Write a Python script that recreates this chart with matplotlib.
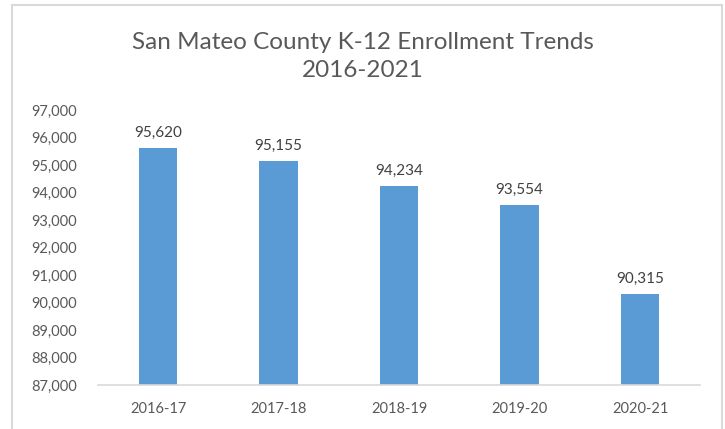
import matplotlib.pyplot as plt
from matplotlib.patches import Rectangle
import numpy as np

years = ["2016-17", "2017-18", "2018-19", "2019-20", "2020-21"]
enrollment = [95620, 95155, 94234, 93554, 90315]

plt.rcParams['font.family'] = ['Lato', 'DejaVu Sans']
grey = "#595959"

fig = plt.figure(figsize=(7.25, 4.29), dpi=100, facecolor='w')
ax = fig.add_axes([0.135, 0.1026, 0.831, 0.641])

x = np.arange(len(years))
bars = ax.bar(x, enrollment, width=0.32, color="#5b9bd5", zorder=2)
ax.set_ylim(87000, 97000)
ax.set_xlim(-0.5, len(years) - 0.5)
ax.set_yticks(np.arange(87000, 97001, 1000))
ax.yaxis.set_major_formatter(plt.FuncFormatter(lambda v, p: '{:,.0f}'.format(v)))
ax.set_xticks(x)
ax.set_xticklabels(years)

for rect, v in zip(bars, enrollment):
    ax.annotate('{:,}'.format(v), xy=(rect.get_x() + rect.get_width() / 2, v),
                xytext=(0, 6), textcoords="offset points",
                ha='center', va='bottom', fontsize=11, color="#404040")

for s in ['top', 'right', 'left']:
    ax.spines[s].set_visible(False)
ax.spines['bottom'].set_color("#d9d9d9")
ax.spines['bottom'].set_linewidth(1.2)
ax.tick_params(axis='both', length=0, labelsize=10.5, labelcolor=grey)
ax.tick_params(axis='y', pad=15)
ax.tick_params(axis='x', pad=12)

fig.text(0.5, 0.868, "San Mateo County K-12 Enrollment Trends\n2016-2021",
         ha='center', va='center', fontsize=17.5, color=grey, linespacing=1.45)

# chart frame
fig.patches.append(Rectangle((12 / 725, -0.05), 710 / 725, 1.05 - 5 / 429,
                             transform=fig.transFigure, fill=False,
                             edgecolor="#d9d9d9", linewidth=1.5))

fig.savefig("out.png", dpi=100)
